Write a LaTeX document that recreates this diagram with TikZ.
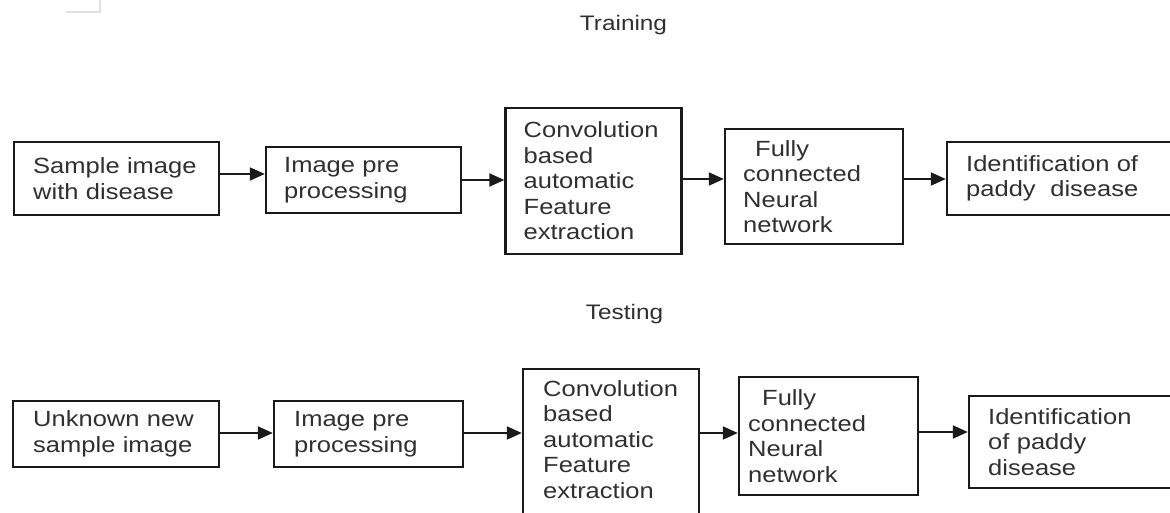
\documentclass[tikz,border=0pt]{standalone}
\usepackage{fontspec}
\setmainfont{Liberation Sans}[FakeStretch=1.16]
\usetikzlibrary{arrows.meta}
\definecolor{txt}{HTML}{303030}
\definecolor{edge}{HTML}{1A1A1A}
\tikzset{
  boxnode/.style={draw=edge, line width=2.4pt, rectangle, align=left, text=txt,
    inner ysep=0pt, font=\fontsize{22}{25.5}\selectfont},
  arr/.style={draw=edge, line width=2pt, -{Triangle[length=15pt,width=13pt]}},
  title/.style={text=txt, anchor=base, font=\fontsize{21}{25}\selectfont}
}
\newcommand{\mkbox}[7]{% name, cx, cy, w, h, xsep, text
  \node[boxnode, minimum width=#4pt, minimum height=#5pt, inner xsep=#6pt,
        text width=#4pt-2*#6pt-2.4pt] (#1) at (#2,#3) {#7};}
\begin{document}
\begin{tikzpicture}[x=1pt,y=-1pt]
\useasboundingbox (0,0) rectangle (1170,513);
\clip (0,0) rectangle (1170,513);
\fill[white] (0,0) rectangle (1170,513);
% faint scan mark
\draw[black!12, line width=1.5pt] (66,12) -- (100,12) -- (100,0);
% titles
\node[title] (ttrain) at (623.5,31) {Training};
\node[title] (ttest) at (624.5,319) {Testing};
% training row
\mkbox{b1}{116.5}{178.5}{205}{73}{18}{\mbox{Sample image}\\\mbox{with disease}}
\mkbox{b2}{363.5}{180}{195}{66}{17}{Image pre\\processing}
\mkbox{b3}{593.5}{181}{176}{146}{17}{Convolution\\based\\automatic\\Feature\\extraction}
\mkbox{b4}{814}{186.5}{178}{115}{17}{\hspace*{12pt}Fully\\connected\\Neural\\network}
\mkbox{b5}{1061}{178.5}{228}{73}{18}{\mbox{Identification of}\\paddy\ \ disease}
\draw[arr] (b1.east |- 0,174) -- (b2.west |- 0,174);
\draw[arr] (b2.east |- 0,180) -- (b3.west |- 0,180);
\draw[arr] (b3.east |- 0,179) -- (b4.west |- 0,179);
\draw[arr] (b4.east |- 0,179) -- (b5.west |- 0,179);
% testing row
\mkbox{c1}{116}{434}{206}{66}{19}{\mbox{Unknown new}\\\mbox{sample image}}
\mkbox{c2}{368.5}{434}{189}{66}{19}{Image pre\\processing}
\mkbox{c3}{611}{449.5}{176}{161}{19}{Convolution\\based\\automatic\\Feature\\extraction\\[-5pt]\mbox{}}
\mkbox{c4}{828.5}{436}{179}{118}{8}{\hspace*{14pt}Fully\\connected\\Neural\\network}
\mkbox{c5}{1074.5}{442}{211}{92}{18}{\mbox{Identification}\\of paddy\\disease}
\draw[arr] (c1.east |- 0,433) -- (c2.west |- 0,433);
\draw[arr] (c2.east |- 0,433) -- (c3.west |- 0,433);
\draw[arr] (c3.east |- 0,433) -- (c4.west |- 0,433);
\draw[arr] (c4.east |- 0,432) -- (c5.west |- 0,432);
\end{tikzpicture}
\end{document}
